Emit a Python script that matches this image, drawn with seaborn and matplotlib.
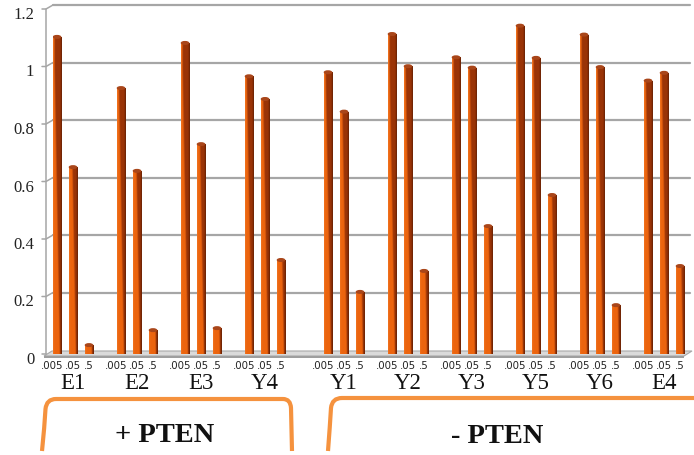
import numpy as np
import pandas as pd
import matplotlib
matplotlib.use("Agg")
import matplotlib.pyplot as plt
import seaborn as sns
from matplotlib.colors import to_rgb
from matplotlib.transforms import ScaledTranslation, IdentityTransform
from matplotlib.lines import Line2D
from matplotlib.patches import Polygon, PathPatch, Ellipse
from matplotlib.path import Path

# ---- data -------------------------------------------------------------
samples = ["E1", "E2", "E3", "Y4", "Y1", "Y2", "Y3", "Y5", "Y6", "E4"]
pten_status = ["+ PTEN"] * 4 + ["- PTEN"] * 6
concentrations = [".005", ".05", ".5"]
conc_005 = [1.103, 0.925, 1.082, 0.966, 0.980, 1.113, 1.032, 1.142, 1.111, 0.951]
conc_05 = [0.650, 0.637, 0.730, 0.887, 0.843, 1.001, 0.996, 1.030, 0.998, 0.978]
conc_5 = [0.031, 0.083, 0.090, 0.327, 0.216, 0.289, 0.445, 0.553, 0.170, 0.306]
y_ticks = [0, 0.2, 0.4, 0.6, 0.8, 1.0, 1.2]
y_tick_labels = ["0", "0.2", "0.4", "0.6", "0.8", "1", "1.2"]

# ---- layout helpers ---------------------------------------------------
W, H = 694, 456
GROUP_GAP = 0.234          # extra space between the two PTEN blocks
BAR_STEP = 0.25            # spacing of bars within a sample

rows = []
for i, (s, st) in enumerate(zip(samples, pten_status)):
    centre = i + (GROUP_GAP if st == "- PTEN" else 0.0)
    for j, (c, vals) in enumerate(zip(concentrations, [conc_005, conc_05, conc_5])):
        rows.append({"sample": s, "status": st, "conc": c,
                     "pos": centre + (j - 1) * BAR_STEP, "centre": centre,
                     "value": vals[i]})
df = pd.DataFrame(rows)

sns.set_theme(style="white")
plt.rcParams["font.family"] = ["Liberation Serif", "DejaVu Serif"]

fig = plt.figure(figsize=(W / 100, H / 100), dpi=100)
fig.patch.set_facecolor("white")
ax = fig.add_axes([53 / W, (H - 355) / H, (690 - 53) / W, (355 - 10) / H])
ax.set_facecolor("none")

sns.barplot(data=df, x="pos", y="value", native_scale=True, width=0.54,
            errorbar=None, color="#c0500e", ax=ax, zorder=3)

# ---- cylinder-like shading for each bar ------------------------------
orange_hi = np.array(to_rgb("#f78c40"))
orange = np.array(to_rgb("#ec640e"))
brown = np.array(to_rgb("#9a3407"))
dark = np.array(to_rgb("#642003"))


def shade(h, nrows=240, ncols=28):
    ys = np.linspace(0, h, nrows)
    us = (np.arange(ncols) + 0.5) / ncols
    Y, U = np.meshgrid(ys, us, indexing="ij")
    edge = 0.78 - 0.6 * np.clip(Y / 1.0, 0, 1)
    t = np.clip((U - edge) / 0.16 + 0.5, 0, 1)[..., None]
    img = (1 - t) * orange + t * brown
    d = np.clip((U - 0.78) / 0.22, 0, 1)[..., None]
    img = img * (1 - d) + dark * d
    lft = (np.clip((0.2 - U) / 0.2, 0, 1) * 0.4)[..., None]
    img = img * (1 - lft) + orange_hi * lft
    return np.clip(img, 0, 1)


px_per_unit = 287.5
for bar in list(ax.patches):
    x0, w, h = bar.get_x(), bar.get_width(), bar.get_height()
    im = ax.imshow(shade(h), extent=[x0, x0 + w, 0, h], origin="lower",
                   aspect="auto", interpolation="bilinear", zorder=3)
    im.set_clip_path(bar)
    bar.set_facecolor("none")
    bar.set_edgecolor("none")
    cap = Ellipse((x0 + w / 2, h), w, 4 / px_per_unit, facecolor="#a9461a",
                  edgecolor="none", zorder=4)
    ax.add_patch(cap)

ax.set_xlim(-0.3125, 9.640)
ax.set_ylim(0, 1.2)
for sp in ax.spines.values():
    sp.set_visible(False)
ax.grid(False)

# y tick labels on the front edge of the left wall
ax.set_yticks(y_ticks, labels=y_tick_labels)
ax.tick_params(axis="y", length=0, pad=13.5, labelsize=12, labelcolor="#222222")
for lab in ax.get_yticklabels():
    lab.set_transform(lab.get_transform() + ScaledTranslation(0, -3 / 100, fig.dpi_scale_trans))

# concentration labels under every bar
ax.set_xticks(df["pos"], labels=df["conc"])
ax.tick_params(axis="x", length=0, pad=4.0, labelsize=7.4, labelcolor="#222222")
for lab in ax.get_xticklabels():
    lab.set_fontfamily("DejaVu Sans")
    if lab.get_text() == ".005":
        lab.set_transform(lab.get_transform() + ScaledTranslation(-5 / 100, 0, fig.dpi_scale_trans))
ax.set_xlabel("")
ax.set_ylabel("")

# sample names
centres = df.drop_duplicates("sample")
for _, r in centres.iterrows():
    ax.text(r["centre"], -(389 - 355) / 345, r["sample"], transform=ax.get_xaxis_transform(),
            ha="center", va="baseline", fontsize=16.5, color="#111111")

# ---- 3-D style frame: back wall gridlines, left wall, floor -----------
fig.canvas.draw()
bb = ax.get_window_extent()
xb, xr, y0 = bb.x0, bb.x1, bb.y0
xf = xb - 7
grid_col = "#a6a6a6"
ident = IdentityTransform()


def yd(v):
    return ax.transData.transform((0, v))[1]


for v in y_ticks[1:]:
    yv = yd(v)
    fig.add_artist(Line2D([xb, xr], [yv + 4, yv + 4], color=grid_col, lw=1.6,
                          transform=ident, zorder=1))
    fig.add_artist(Line2D([xf - 4, xf, xb], [yv, yv, yv + 4], color=grid_col, lw=1.1,
                          transform=ident, zorder=1))
fig.add_artist(Line2D([xf, xf], [y0, yd(1.2)], color=grid_col, lw=1.1,
                      transform=ident, zorder=1))
fig.add_artist(Line2D([xf - 4, xf], [y0, y0], color=grid_col, lw=1.1,
                      transform=ident, zorder=1))

floor_top = Polygon([(xf - 2, y0 - 2), (xb - 1, y0 + 3), (xr + 2, y0 + 3), (xr - 6, y0 - 2)],
                    closed=True, facecolor="#dadada", edgecolor="#a8a8a8", lw=0.8,
                    transform=ident, zorder=2)
floor_front = Polygon([(xf - 2, y0 - 2), (xr - 6, y0 - 2), (xr - 6, y0 - 4), (xf - 2, y0 - 4)],
                      closed=True, facecolor="#9e9e9e", edgecolor="none",
                      transform=ident, zorder=2)
fig.add_artist(floor_top)
fig.add_artist(floor_front)
ax.set_zorder(3)

# ---- PTEN brackets ----------------------------------------------------
def fpt(x, y):
    return (x / W, 1 - y / H)


bracket_col = "#f5923e"
left_verts = [fpt(42, 452), fpt(44.5, 428), fpt(45.5, 410),
              fpt(46.5, 400), fpt(56, 400),
              fpt(283, 400),
              fpt(290.5, 400), fpt(291, 409),
              fpt(292, 452)]
left_codes = [Path.MOVETO, Path.CURVE3, Path.CURVE3,
              Path.CURVE3, Path.CURVE3,
              Path.LINETO,
              Path.CURVE3, Path.CURVE3,
              Path.LINETO]
right_verts = [fpt(328, 452), fpt(330, 426), fpt(331, 409),
               fpt(332, 399), fpt(342, 399), fpt(700, 399)]
right_codes = [Path.MOVETO, Path.CURVE3, Path.CURVE3,
               Path.CURVE3, Path.CURVE3, Path.LINETO]
for verts, codes in [(left_verts, left_codes), (right_verts, right_codes)]:
    fig.add_artist(PathPatch(Path(verts, codes), facecolor="none", edgecolor=bracket_col,
                             lw=3.0, capstyle="butt", joinstyle="round",
                             transform=fig.transFigure))

fig.text(165 / W, 1 - 442 / H, "+ PTEN", ha="center", va="baseline",
         fontsize=20.5, fontweight="bold", color="#111111")
fig.text(497 / W, 1 - 443 / H, "- PTEN", ha="center", va="baseline",
         fontsize=20.5, fontweight="bold", color="#111111")

fig.savefig("out.png", dpi=100, facecolor="white")
